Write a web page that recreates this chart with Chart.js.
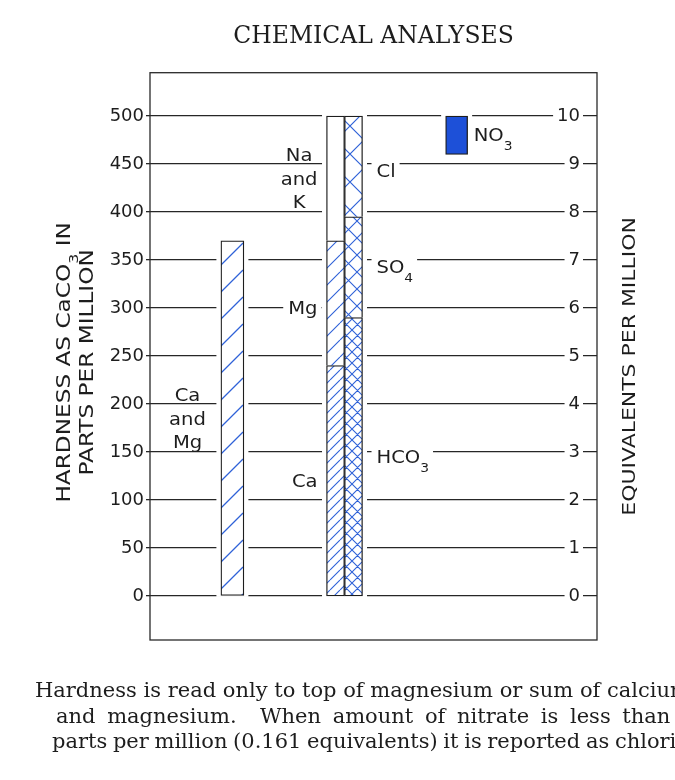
<!DOCTYPE html>
<html><head><meta charset="utf-8">
<script src="https://cdn.jsdelivr.net/npm/chart.js@4.4.1/dist/chart.umd.min.js"></script>
<style>
html,body{margin:0;padding:0;background:#fff;width:675px;height:780px;overflow:hidden;}
#wrap{position:absolute;left:0;top:0;width:675px;height:780px;}
</style></head><body>
<div id="wrap"><canvas id="c" width="675" height="780"></canvas></div>
<script>
// ---------------- data ----------------
const categories = ['Hardness', 'Cations and anions', 'Nitrate'];
const hardnessName = 'Ca and Mg';
const hardnessPpm = 370;                 // hardness as CaCO3, ppm
const cationNames = ['Ca', 'Mg', 'Na and K'];
const cationEpm = [4.8, 2.6, 2.6];       // equivalents per million
const anionNames = ['HCO3', 'SO4', 'Cl'];
const anionEpm = [5.8, 2.1, 2.1];
const nitrateName = 'NO3';
const nitrateRangeEpm = [9.2, 10.0];
const ppmTicks = [0, 50, 100, 150, 200, 250, 300, 350, 400, 450, 500];
const epmTicks = [0, 1, 2, 3, 4, 5, 6, 7, 8, 9, 10];
const captionLines = [
  'Hardness is read only to top of magnesium or sum of calcium',
  'and magnesium.  When amount of nitrate is less than 10',
  'parts per million (0.161 equivalents) it is reported as chloride.'
];

// ---------------- styles ----------------
const INK = '#1d1d1d';
const BLUE = '#2f62d8';
function hatch(step, cross, lw) {
  const c = document.createElement('canvas');
  c.width = step; c.height = step;
  const g = c.getContext('2d');
  g.fillStyle = '#fff'; g.fillRect(0, 0, step, step);
  g.strokeStyle = BLUE; g.lineWidth = lw;
  g.beginPath();
  for (let k = -1; k <= 1; k++) {
    g.moveTo(k * step, step); g.lineTo(k * step + step, 0);
    if (cross) { g.moveTo(k * step, 0); g.lineTo(k * step + step, step); }
  }
  g.stroke();
  return g.createPattern(c, 'repeat');
}
const patHard = hatch(27, false, 1.3);
const cationFills = [hatch(10, false, 1.1), hatch(17, false, 1.1), '#ffffff'];
const anionFills = [hatch(11, true, 1.1), hatch(17, true, 1.1), hatch(28, true, 1.2)];

function at(idx, v) { return categories.map((_, i) => (i === idx ? v : null)); }
function bw(isBase) { return {top: 1.3, left: 1.3, right: 1.3, bottom: isBase ? 1.3 : 0}; }

const datasets = [];
datasets.push({label: hardnessName, data: at(0, hardnessPpm), yAxisID: 'y', stack: 'hardness',
  backgroundColor: patHard, borderColor: INK, borderWidth: bw(true), barThickness: 23, skipNull: true, borderSkipped: false});
cationNames.forEach((n, i) => datasets.push({label: n, data: at(1, cationEpm[i]), yAxisID: 'y2', stack: 'cations',
  backgroundColor: cationFills[i], borderColor: INK, borderWidth: bw(i === 0), barThickness: 18, skipNull: true, borderSkipped: false}));
anionNames.forEach((n, i) => datasets.push({label: n, data: at(1, anionEpm[i]), yAxisID: 'y2', stack: 'anions',
  backgroundColor: anionFills[i], borderColor: INK, borderWidth: bw(i === 0), barThickness: 18, skipNull: true, borderSkipped: false}));
datasets.push({label: nitrateName, data: at(2, nitrateRangeEpm), yAxisID: 'y2', stack: 'nitrate',
  backgroundColor: '#1d50d8', borderColor: INK, borderWidth: 1.3, barThickness: 22, skipNull: true, borderSkipped: false});

// ---------------- text helper ----------------
function drawRich(ctx, text, x, y, o) {
  const parts = text.split(/(\d+)/).filter(s => s).map(s => ({t: s, sub: /^\d+$/.test(s)}));
  const fMain = o.size + "px 'DejaVu Sans'";
  const fSub = o.subSize + "px 'DejaVu Sans'";
  let w = 0;
  parts.forEach(p => { ctx.font = p.sub ? fSub : fMain; p.w = ctx.measureText(p.t).width; w += p.w; });
  const W = w * o.sx;
  const cap = o.size * 0.73;
  ctx.save();
  ctx.translate(x, y);
  if (o.rot) ctx.rotate(o.rot);
  const x0 = o.align === 'right' ? -W : (o.align === 'center' ? -W / 2 : 0);
  if (o.backdrop) { ctx.fillStyle = '#fff'; ctx.fillRect(x0 - 5, -cap / 2 - 3, W + 9, cap + 6); }
  ctx.translate(x0, cap / 2);
  ctx.scale(o.sx, 1);
  ctx.fillStyle = INK; ctx.textAlign = 'left'; ctx.textBaseline = 'alphabetic';
  let cx = 0;
  parts.forEach(p => { ctx.font = p.sub ? fSub : fMain; ctx.fillText(p.t, cx, p.sub ? o.subDy : 0); cx += p.w; });
  ctx.restore();
  return W;
}
function measureRich(ctx, text, o) {
  const parts = text.split(/(\d+)/).filter(s => s);
  let w = 0;
  parts.forEach(s => { ctx.font = (/^\d+$/.test(s) ? o.subSize : o.size) + "px 'DejaVu Sans'"; w += ctx.measureText(s).width; });
  return w * o.sx;
}
const LBL = {size: 17, subSize: 12, subDy: 9, sx: 1.15};
function drawBlock(ctx, name, rightEdge, yc, backdrop) {
  const lines = name.split(' ');
  const maxW = Math.max(...lines.map(l => measureRich(ctx, l, LBL)));
  const cx = rightEdge - maxW / 2;
  const lh = 23.5;
  lines.forEach((l, i) => {
    drawRich(ctx, l, cx, yc + (i - (lines.length - 1) / 2) * lh, Object.assign({align: 'center', backdrop: backdrop && lines.length === 1}, LBL));
  });
}

function barEl(chart, dsIndex, idx) { return chart.getDatasetMeta(dsIndex).data[idx]; }

const decor = {
  id: 'decor',
  beforeDatasetsDraw(chart) {
    const ctx = chart.ctx;
    ctx.save(); ctx.fillStyle = '#fff';
    chart.data.datasets.forEach((ds, di) => {
      chart.getDatasetMeta(di).data.forEach((el, i) => {
        if (ds.data[i] === null) return;
        const p = el.getProps(['x', 'y', 'base', 'width'], true);
        const top = Math.min(p.y, p.base), bot = Math.max(p.y, p.base);
        ctx.fillRect(p.x - p.width / 2 - 4.5, top - 1.5, p.width + 9, bot - top + 3);
      });
    });
    ctx.restore();
  },
  afterDatasetsDraw(chart) {
    const ctx = chart.ctx;
    const y = chart.scales.y, y2 = chart.scales.y2;
    const hEl = barEl(chart, 0, 0).getProps(['x', 'width'], true);
    drawBlock(ctx, hardnessName, hEl.x - hEl.width / 2 - 15, y.getPixelForValue(hardnessPpm / 2), false);
    let acc = 0;
    cationNames.forEach((n, i) => {
      const el = barEl(chart, 1 + i, 1).getProps(['x', 'width'], true);
      const mid = acc + cationEpm[i] / 2; acc += cationEpm[i];
      drawBlock(ctx, n, el.x - el.width / 2 - 9, y2.getPixelForValue(mid) + (i === 1 ? 5 : 0), true);
    });
    acc = 0;
    anionNames.forEach((n, i) => {
      const el = barEl(chart, 1 + cationNames.length + i, 1).getProps(['x', 'width'], true);
      const mid = acc + anionEpm[i] / 2; acc += anionEpm[i];
      drawRich(ctx, n, el.x + el.width / 2 + 14, y2.getPixelForValue(mid) + (i === 2 ? 4 : 0), Object.assign({align: 'left', backdrop: true}, LBL));
    });
    const nEl = barEl(chart, datasets.length - 1, 2).getProps(['x', 'width'], true);
    drawRich(ctx, nitrateName, nEl.x + nEl.width / 2 + 6, y2.getPixelForValue((nitrateRangeEpm[0] + nitrateRangeEpm[1]) / 2), Object.assign({align: 'left', backdrop: false}, LBL));
  },
  afterDraw(chart) {
    const ctx = chart.ctx, a = chart.chartArea;
    ctx.save();
    ctx.strokeStyle = '#2a2a2a'; ctx.lineWidth = 1.3;
    ctx.strokeRect(a.left, a.top, a.right - a.left, a.bottom - a.top);
    ctx.restore();
    const T = {size: 19, subSize: 13, subDy: 8, sx: 1.22, align: 'center', rot: -Math.PI / 2};
    const cy = (a.top + a.bottom) / 2;
    drawRich(ctx, 'HARDNESS AS CaCO3 IN', a.left - 87, cy + 6, T);
    drawRich(ctx, 'PARTS PER MILLION', a.left - 64, cy + 6, T);
    drawRich(ctx, 'EQUIVALENTS PER MILLION', a.right + 31, cy + 10, Object.assign({}, T, {size: 18}));
    // caption below the plot (justified-looking word spacing per line)
    ctx.save();
    ctx.font = "21px 'DejaVu Serif'";
    ctx.fillStyle = INK; ctx.textAlign = 'left'; ctx.textBaseline = 'alphabetic';
    const capX = [35, 56, 52];
    const capWS = ['0px', '5px', '-1px'];
    captionLines.forEach((line, i) => {
      ctx.wordSpacing = capWS[i];
      ctx.fillText(line, capX[i], a.bottom + 57 + i * 25.5);
    });
    ctx.restore();
  }
};

const tickFont = {family: 'DejaVu Sans', size: 18};
new Chart(document.getElementById('c'), {
  type: 'bar',
  data: {labels: categories.map((_, i) => i), datasets},
  plugins: [decor],
  options: {
    responsive: false,
    animation: false,
    layout: {padding: {left: 0, right: 0, top: 0, bottom: 140}},
    plugins: {
      legend: {display: false},
      tooltip: {enabled: false},
      title: {display: true, text: 'CHEMICAL ANALYSES', fullSize: false, color: INK,
        font: {family: 'DejaVu Serif', size: 23.5, weight: 'normal', lineHeight: 1.2},
        padding: {top: 22.9, bottom: 21.6}}
    },
    scales: {
      x: {type: 'linear', min: -0.735, max: 3.252, offset: false, display: false},
      y: {type: 'linear', position: 'left', min: -45.8, max: 545.1, stacked: false,
        afterBuildTicks: s => { s.ticks = ppmTicks.map(v => ({value: v})); },
        afterFit: s => { s.width = 150; },
        grid: {color: '#262626', lineWidth: 1.3, tickLength: 4, drawTicks: true},
        border: {display: false},
        ticks: {font: tickFont, color: INK, padding: 2, autoSkip: false}
      },
      y2: {type: 'linear', position: 'right', min: -45.8 / 50, max: 545.1 / 50, stacked: true,
        afterBuildTicks: s => { s.ticks = epmTicks.map(v => ({value: v})); },
        afterFit: s => { s.width = 78; },
        grid: {display: false, drawOnChartArea: false},
        border: {display: false},
        ticks: {font: tickFont, color: INK, mirror: true, padding: -17, autoSkip: false,
          showLabelBackdrop: true, backdropColor: '#ffffff', backdropPadding: {left: 4, right: 3, top: 0, bottom: 0}}
      }
    }
  }
});
</script>
</body></html>
